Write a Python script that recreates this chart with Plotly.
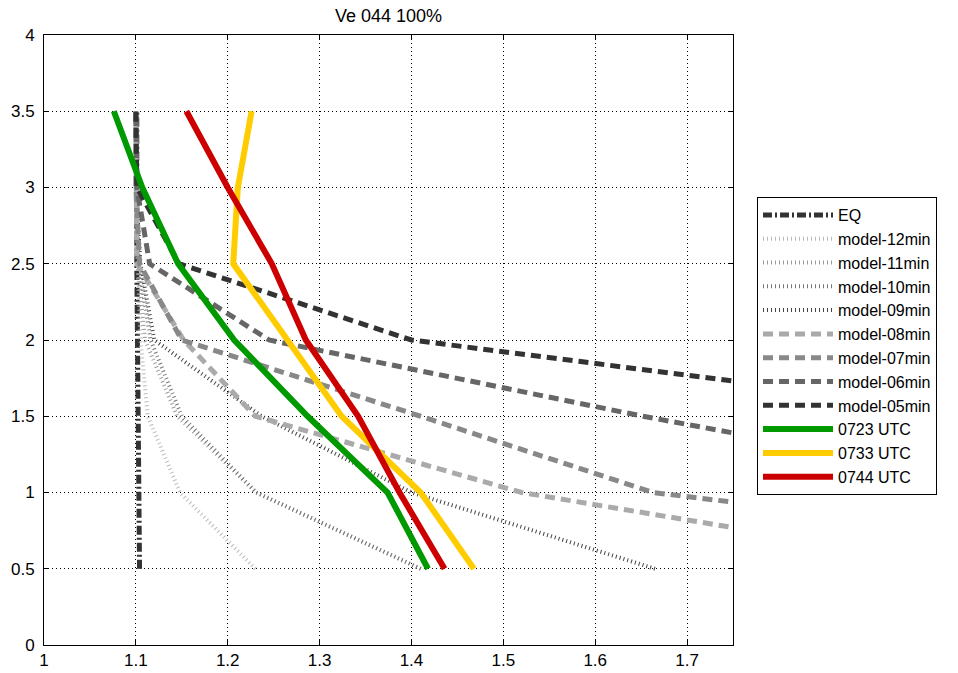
import plotly.graph_objects as go

# heights (y) at which each profile is given
y_levels = [0.5, 1.0, 1.5, 2.0, 2.5, 3.0, 3.5]

# x-values of each profile at y_levels
eq = [1.104, 1.103, 1.102, 1.102, 1.101, 1.101, 1.101]
model_12 = [1.230, 1.148, 1.113, 1.105, 1.102, 1.100, 1.100]
model_11 = [1.410, 1.231, 1.145, 1.110, 1.102, 1.100, 1.100]
model_10 = [1.410, 1.231, 1.150, 1.116, 1.103, 1.100, 1.100]
model_09 = [1.665, 1.400, 1.237, 1.120, 1.105, 1.100, 1.100]
model_08 = [2.020, 1.520, 1.230, 1.152, 1.101, 1.100, 1.100]
model_07 = [2.350, 1.663, 1.410, 1.150, 1.104, 1.100, 1.100]
model_06 = [2.500, 2.100, 1.652, 1.245, 1.115, 1.101, 1.100]
model_05 = [2.700, 2.400, 2.050, 1.400, 1.147, 1.101, 1.100]
utc_0723 = [1.418, 1.374, 1.287, 1.207, 1.146, 1.107, 1.076]
utc_0733 = [1.468, 1.410, 1.324, 1.265, 1.206, 1.211, 1.226]
utc_0744 = [1.436, 1.387, 1.342, 1.285, 1.248, 1.200, 1.155]

x_ticks = [1, 1.1, 1.2, 1.3, 1.4, 1.5, 1.6, 1.7]
y_ticks = [0, 0.5, 1, 1.5, 2, 2.5, 3, 3.5, 4]

series = [
    ("EQ", eq, "#333333", 5, "9px,3px,2px,3px"),
    ("model-12min", model_12, "#bbbbbb", 4, "1px,3px"),
    ("model-11min", model_11, "#999999", 4, "1px,3px"),
    ("model-10min", model_10, "#777777", 4, "1px,3px"),
    ("model-09min", model_09, "#444444", 4, "1px,3px"),
    ("model-08min", model_08, "#aaaaaa", 5, "10px,6px"),
    ("model-07min", model_07, "#888888", 5, "10px,6px"),
    ("model-06min", model_06, "#666666", 5, "10px,6px"),
    ("model-05min", model_05, "#333333", 5, "10px,6px"),
    ("0723 UTC", utc_0723, "#009900", 6, "solid"),
    ("0733 UTC", utc_0733, "#ffcc00", 6, "solid"),
    ("0744 UTC", utc_0744, "#cc0000", 6, "solid"),
]

fig = go.Figure()
for name, xs, color, w, dash in series:
    fig.add_trace(go.Scatter(
        x=xs, y=y_levels, mode="lines", name=name,
        line=dict(color=color, width=w, dash=dash),
    ))

font_family = "Liberation Sans, Arial, sans-serif"
axis_common = dict(
    showline=True, linecolor="black", linewidth=1, mirror="ticks",
    ticks="inside", ticklen=5, tickcolor="black",
    showgrid=True, gridcolor="black", gridwidth=1, griddash="1px,3px",
    zeroline=False, tickfont=dict(family=font_family, size=17, color="black"),
)

fig.update_layout(
    width=958, height=673,
    margin=dict(l=44, r=225, t=35, b=28, autoexpand=False),
    paper_bgcolor="white", plot_bgcolor="white",
    title=dict(text="Ve 044 100%", x=(44 + 733) / 2 / 958, xanchor="center",
               y=1 - 16 / 673, yanchor="middle",
               font=dict(family=font_family, size=18, color="black")),
    xaxis=dict(range=[1, 1.75], tickvals=x_ticks, ticktext=[str(v) for v in x_ticks],
               **axis_common),
    yaxis=dict(range=[0, 4], tickvals=y_ticks, ticktext=[f"{v:g}" for v in y_ticks],
               ticklabelstandoff=5, **axis_common),
    legend=dict(x=(757 - 44) / 689, xanchor="left", y=(645 - 197) / 610, yanchor="top",
                bgcolor="white", bordercolor="black", borderwidth=1,
                font=dict(family=font_family, size=16, color="black"),
                itemwidth=70, tracegroupgap=0),
    showlegend=True,
)

fig.write_html("out.html", config={"displayModeBar": False},
               post_script="document.body.style.margin='0';")
